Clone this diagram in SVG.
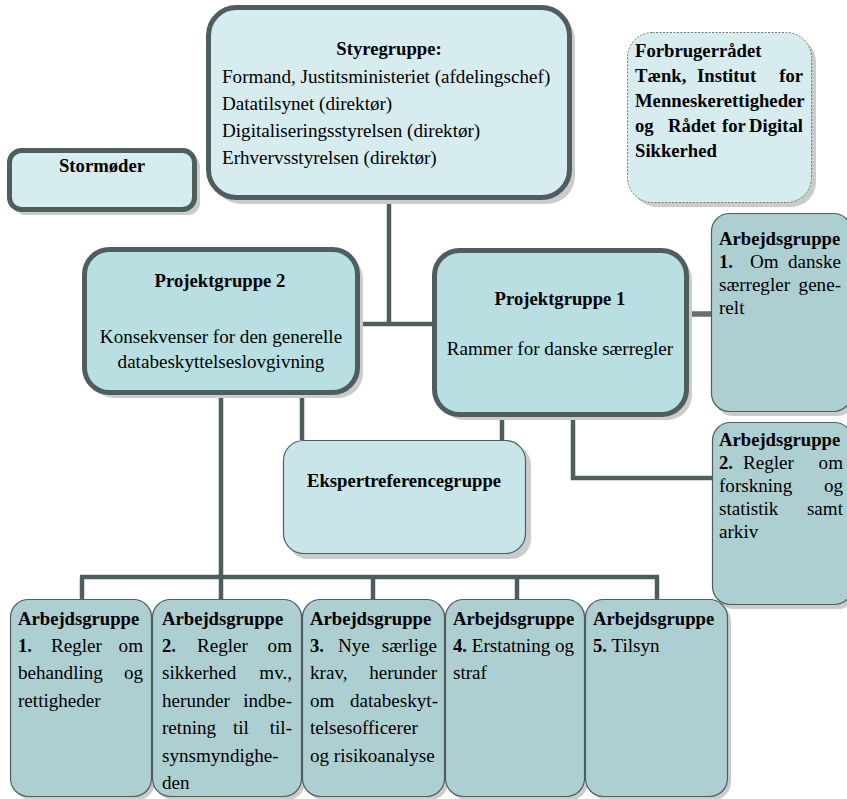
<svg xmlns="http://www.w3.org/2000/svg" width="847" height="799" viewBox="0 0 847 799">
<style>
text{font-family:"Liberation Serif","Times New Roman",serif;font-size:19.1px;fill:#000}
.b{font-weight:bold;font-size:18.67px}
.m{text-anchor:middle}
.e{text-anchor:end}
.shadow{fill:#cbcbcb;stroke:none}
.thick{stroke:#4e5e5f;stroke-width:5}
.thin{stroke:#4e5e5f;stroke-width:1.2}
.light{fill:#d6ecef}
.proj{fill:#b9dfe3}
.eks{fill:#c8e6e9}
.ag{fill:#aecfd2}
.dash{stroke:#777;stroke-width:1;stroke-dasharray:2 1.5;fill:#d6ecef}
.con{stroke:#4e5e5f;fill:none;stroke-width:4.5}
</style>
<g id="connectors">
<line class="con" x1="389" y1="200" x2="389" y2="324"/>
<line class="con" x1="360" y1="324" x2="432" y2="324"/>
<line x1="689" y1="314" x2="711" y2="314" stroke="#65716f" stroke-width="5.5"/>
<polyline class="con" points="573,417 573,478 712,478"/>
<line class="con" x1="302" y1="395" x2="302" y2="440"/>
<line class="con" x1="502" y1="417" x2="502" y2="440"/>
<line class="con" x1="221" y1="395" x2="221" y2="599"/>
<line class="con" x1="80" y1="577" x2="659" y2="577"/>
<line class="con" x1="82" y1="577" x2="82" y2="599"/>
<line class="con" x1="373" y1="577" x2="373" y2="599"/>
<line class="con" x1="517" y1="577" x2="517" y2="599"/>
<line class="con" x1="657" y1="577" x2="657" y2="599"/>
</g>
<g id="styregruppe">
<rect class="shadow" x="213" y="12" width="362" height="192" rx="28"/>
<rect class="thick light" x="208.5" y="7.5" width="361" height="190" rx="28"/>
<text class="b m" x="389" y="55">Styregruppe:</text>
<text x="222" y="82.5">Formand, Justitsministeriet (afdelingschef)</text>
<text x="222" y="110">Datatilsynet (direktør)</text>
<text x="222" y="137">Digitaliseringsstyrelsen (direktør)</text>
<text x="222" y="164">Erhvervsstyrelsen (direktør)</text>
</g>
<g id="stormoder">
<rect class="shadow" x="14" y="155" width="186" height="60" rx="12"/>
<rect class="thick light" x="9.5" y="150.5" width="185" height="59" rx="12"/>
<text class="b m" x="102" y="172">Stormøder</text>
</g>
<g id="forbrugerraadet">
<rect class="shadow" x="632" y="37" width="184" height="170" rx="25"/>
<rect class="dash" x="627.5" y="32.5" width="184" height="170" rx="25"/>
<text class="b" x="635" y="57">Forbrugerrådet</text>
<text class="b" x="635" y="82">Tænk,</text>
<text class="b" x="697" y="82">Institut</text>
<text class="b e" x="803" y="82">for</text>
<text class="b" x="635" y="107">Menneskerettigheder</text>
<text class="b" x="635" y="132">og</text>
<text class="b" x="668" y="132">Rådet</text>
<text class="b" x="722" y="132">for</text>
<text class="b e" x="803" y="132">Digital</text>
<text class="b" x="635" y="157">Sikkerhed</text>
</g>
<g id="projektgruppe2">
<rect class="shadow" x="89" y="254" width="274" height="144" rx="25"/>
<rect class="thick proj" x="84.5" y="249.5" width="273" height="143" rx="25"/>
<text class="b m" x="220" y="287">Projektgruppe 2</text>
<text class="m" x="221" y="343">Konsekvenser for den generelle</text>
<text class="m" x="221" y="368">databeskyttelseslovgivning</text>
</g>
<g id="projektgruppe1">
<rect class="shadow" x="439" y="255" width="253" height="165" rx="25"/>
<rect class="thick proj" x="434.5" y="250.5" width="252" height="164" rx="25"/>
<text class="b m" x="560" y="305">Projektgruppe 1</text>
<text class="m" x="560" y="355">Rammer for danske særregler</text>
</g>
<g id="ekspertreferencegruppe">
<rect class="shadow" x="288" y="445" width="243" height="114" rx="20"/>
<rect class="thin eks" x="283.5" y="440.5" width="242" height="113" rx="20"/>
<text class="b m" x="404" y="487">Ekspertreferencegruppe</text>
</g>
<g id="ag1-right">
<rect class="shadow" x="715" y="217" width="140" height="199" rx="18"/>
<rect class="thin ag" x="711.5" y="213.5" width="140" height="198" rx="18"/>
<text class="b" x="719" y="245">Arbejdsgruppe</text>
<text class="b" x="719" y="268">1.</text>
<text x="750" y="268">Om</text>
<text class="e" x="841" y="268">danske</text>
<text x="719" y="291">særregler</text>
<text class="e" x="841" y="291">gene-</text>
<text x="719" y="314">relt</text>
</g>
<g id="ag2-right">
<rect class="shadow" x="716" y="426" width="140" height="183" rx="18"/>
<rect class="thin ag" x="712.5" y="422.5" width="140" height="182" rx="18"/>
<text class="b" x="719" y="446">Arbejdsgruppe</text>
<text class="b" x="719" y="469">2.</text>
<text x="743" y="469">Regler</text>
<text class="e" x="843" y="469">om</text>
<text x="719" y="492">forskning</text>
<text class="e" x="843" y="492">og</text>
<text x="719" y="515">statistik</text>
<text class="e" x="843" y="515">samt</text>
<text x="719" y="538">arkiv</text>
</g>
<g id="ag1-bottom">
<rect class="shadow" x="14" y="603" width="141" height="197" rx="18"/>
<rect class="thin ag" x="10.5" y="599.5" width="141" height="197" rx="18"/>
<text class="b" x="18" y="625">Arbejdsgruppe</text>
<text class="b" x="18" y="652">1.</text>
<text x="51" y="652">Regler</text>
<text class="e" x="143" y="652">om</text>
<text x="18" y="679">behandling</text>
<text class="e" x="143" y="679">og</text>
<text x="18" y="707">rettigheder</text>
</g>
<g id="ag2-bottom">
<rect class="shadow" x="156" y="603" width="149" height="197" rx="18"/>
<rect class="thin ag" x="152.5" y="599.5" width="149" height="197" rx="18"/>
<text class="b" x="162" y="625">Arbejdsgruppe</text>
<text class="b" x="162" y="652">2.</text>
<text x="197" y="652">Regler</text>
<text class="e" x="292" y="652">om</text>
<text x="162" y="679">sikkerhed</text>
<text class="e" x="292" y="679">mv.,</text>
<text x="162" y="707">herunder</text>
<text class="e" x="292" y="707">indbe-</text>
<text x="162" y="734">retning</text>
<text x="233" y="734">til</text>
<text class="e" x="292" y="734">til-</text>
<text x="162" y="762">synsmyndighe-</text>
<text x="162" y="789">den</text>
</g>
<g id="ag3-bottom">
<rect class="shadow" x="306" y="603" width="142" height="197" rx="18"/>
<rect class="thin ag" x="302.5" y="599.5" width="142" height="197" rx="18"/>
<text class="b" x="310" y="625">Arbejdsgruppe</text>
<text class="b" x="310" y="652">3.</text>
<text x="338" y="652">Nye</text>
<text class="e" x="437" y="652">særlige</text>
<text x="310" y="679">krav,</text>
<text class="e" x="437" y="679">herunder</text>
<text x="310" y="707">om</text>
<text class="e" x="438" y="707">databeskyt-</text>
<text x="310" y="734">telsesofficerer</text>
<text x="310" y="762">og risikoanalyse</text>
</g>
<g id="ag4-bottom">
<rect class="shadow" x="449" y="603" width="139" height="197" rx="18"/>
<rect class="thin ag" x="445.5" y="599.5" width="139" height="197" rx="18"/>
<text class="b" x="453" y="625">Arbejdsgruppe</text>
<text x="453" y="652"><tspan class="b">4.</tspan> Erstatning og</text>
<text x="453" y="679">straf</text>
</g>
<g id="ag5-bottom">
<rect class="shadow" x="589" y="603" width="142" height="197" rx="18"/>
<rect class="thin ag" x="585.5" y="599.5" width="142" height="197" rx="18"/>
<text class="b" x="593" y="625">Arbejdsgruppe</text>
<text x="593" y="652"><tspan class="b">5.</tspan> Tilsyn</text>
</g>
</svg>
